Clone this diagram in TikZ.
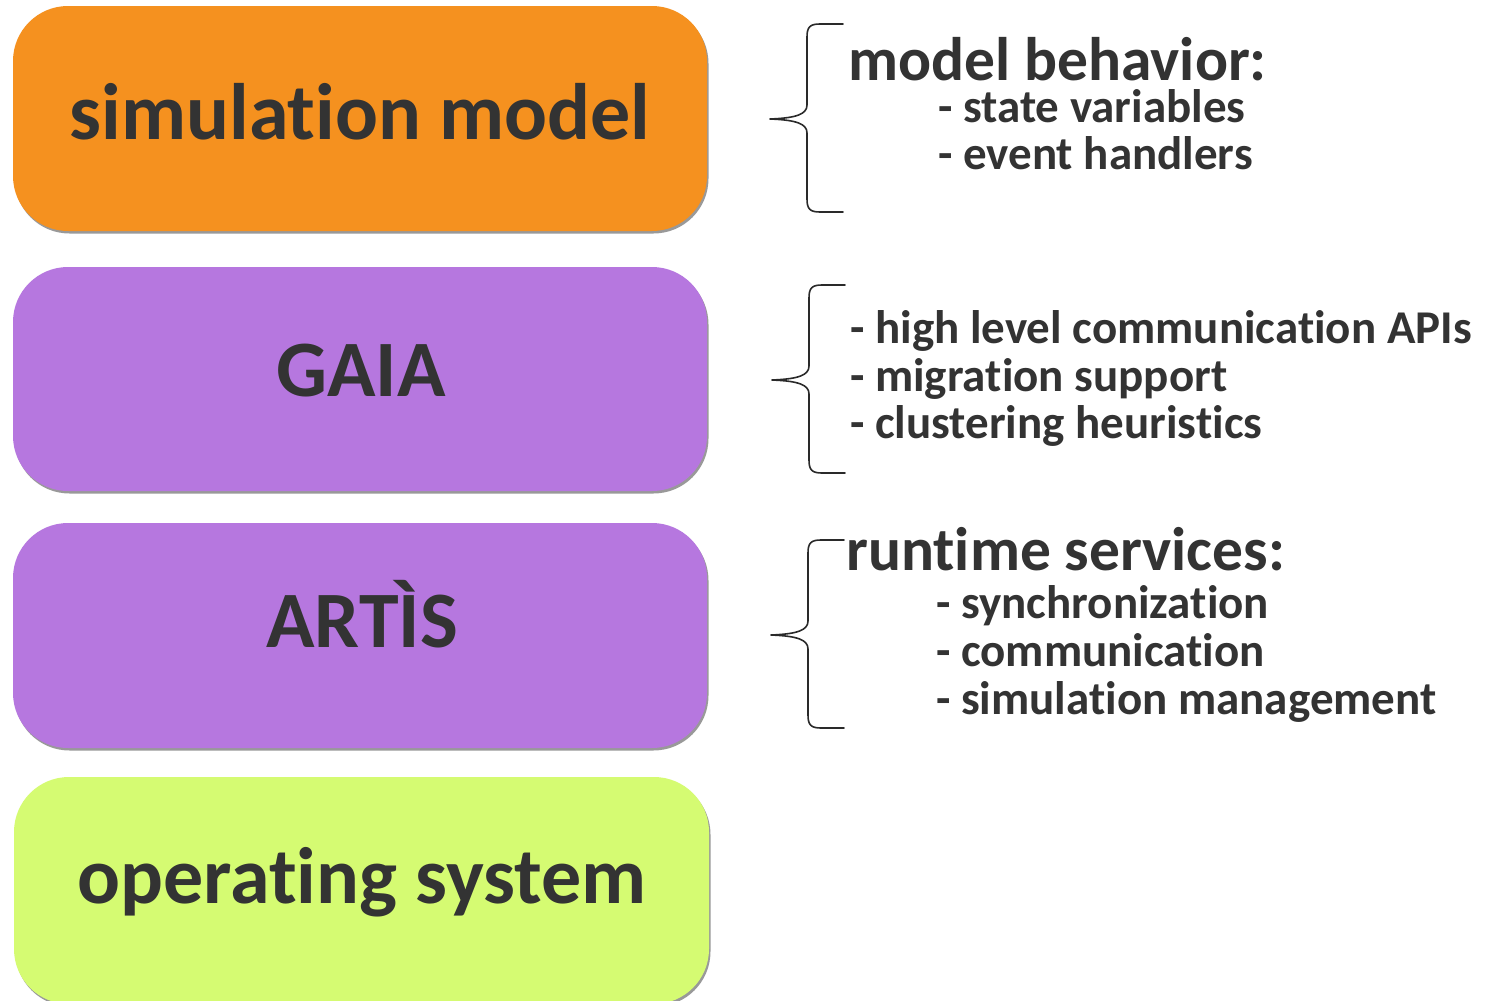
\documentclass[tikz,border=0pt]{standalone}
\usepackage{fontspec}
\setmainfont{Carlito}[RawFeature={-liga;-clig;-calt;-dlig}]
\definecolor{layerorange}{HTML}{F5911F}
\definecolor{layerpurple}{HTML}{B677DF}
\definecolor{layerlime}{HTML}{D5FB72}
\definecolor{inkgray}{HTML}{333333}
\definecolor{bracegray}{HTML}{2A2A2A}
\begin{document}
\begin{tikzpicture}[x=1pt,y=-1pt,
  layertext/.style={anchor=base, inner sep=0pt, text=inkgray,
    font=\fontsize{80}{96}\selectfont\bfseries},
  headtext/.style={anchor=base west, inner sep=0pt, text=inkgray,
    font=\fontsize{61.5}{72}\selectfont\bfseries},
  itemtext/.style={anchor=base west, inner sep=0pt, text=inkgray,
    font=\fontsize{47}{52}\selectfont\bfseries},
  curly/.pic={
    \draw[bracegray, line width=1.6pt, line cap=round, line join=round]
      (73,-95) -- (50,-95) .. controls (40,-95) and (37,-92) .. (37,-82)
      -- (37,-14) .. controls (37,-5) and (27,-1) .. (0,0)
      .. controls (27,1) and (37,5) .. (37,14)
      -- (37,80) .. controls (37,90) and (40,93) .. (50,93) -- (73,93);
  }]
  \useasboundingbox (0,0) rectangle (1491,1001);
  \fill[white] (0,0) rectangle (1491,1001);
  \begin{scope}
  \clip (0,0) rectangle (1491,1001);
  % stacked layers, each with a thin soft shadow below
  \foreach \y/\h/\c/\n in {6/225/layerorange/simbox, 267/224/layerpurple/gaiabox,
                           523/225/layerpurple/artisbox} {
    \fill[gray!80, rounded corners=55pt] (14.5,\y+2.5) rectangle (708.5,\y+\h+2.5);
    \fill[\c, rounded corners=55pt] (13,\y) rectangle (707,\y+\h);
    \coordinate (\n) at (360,\y+\h/2);
  }
  \fill[gray!80, rounded corners=55pt] (15.5,779.5) rectangle (710.5,1006.5);
  \fill[layerlime, rounded corners=55pt] (14,777) rectangle (709,1004);
  \coordinate (osbox) at (361.5,890);
  \end{scope}

  % layer names
  \node[layertext] (simtxt) at (360,139) {simulation model};
  \node[layertext] (gaiatxt) at (361,396) {GAIA};
  \node[layertext] (artistxt) at (362,647) {ARTÌS};
  \node[layertext] (ostxt) at (362,903) {operating system};

  % braces
  \pic at (770,119) {curly};
  \pic at (772,380) {curly};
  \pic at (771,635) {curly};

  % descriptions
  \node[headtext] (mbhead) at (848,80) {model behavior:};
  \node[itemtext] (mb1) at (938,122) {- state variables};
  \node[itemtext] (mb2) at (938,169) {- event handlers};

  \node[itemtext] (g1) at (850,343) {- high level communication APIs};
  \node[itemtext] (g2) at (850,391) {- migration support};
  \node[itemtext] (g3) at (850,438) {- clustering heuristics};

  \node[headtext] (rshead) at (846,570) {runtime services:};
  \node[itemtext] (rs1) at (936,618) {- synchronization};
  \node[itemtext] (rs2) at (936,666) {- communication};
  \node[itemtext] (rs3) at (936,714) {- simulation management};
\end{tikzpicture}
\end{document}
